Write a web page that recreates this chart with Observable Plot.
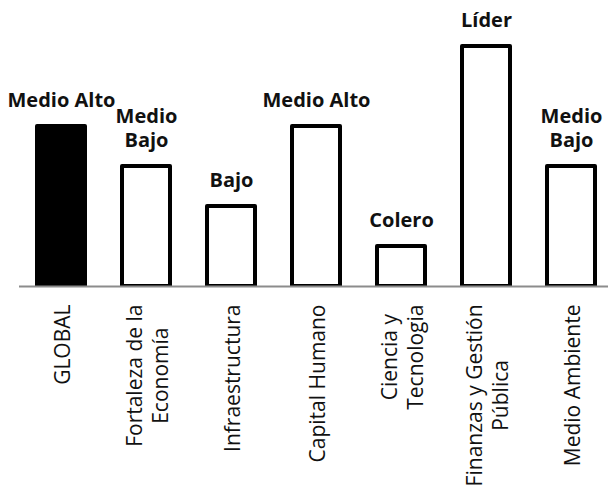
<!DOCTYPE html>
<html><head><meta charset="utf-8">
<script src="https://cdn.jsdelivr.net/npm/d3@7"></script>
<script src="https://cdn.jsdelivr.net/npm/@observablehq/plot@0.6"></script>
<style>body{margin:0;background:#fff}</style>
</head><body><div id="chart"></div>
<script>
const categories = ["GLOBAL", "Fortaleza de la\nEconomía", "Infraestructura", "Capital Humano", "Ciencia y\nTecnologia", "Finanzas y Gestión\nPública", "Medio Ambiente"];
const values = [4, 3, 2, 4, 1, 6, 3];
const levels = ["Medio Alto", "Medio\nBajo", "Bajo", "Medio Alto", "Colero", "Líder", "Medio\nBajo"];
const isGlobal = [true, false, false, false, false, false, false];

const data = categories.map((c, i) => ({cat: c, value: values[i], level: levels[i], fill: isGlobal[i] ? "#000000" : "#ffffff"}));

const axisFont = 21;
const ctx = document.createElement("canvas").getContext("2d");
ctx.font = `${axisFont}px 'Open Sans'`;
const halfLen = categories.map(c => Math.max(...c.split("\n").map(s => ctx.measureText(s).width)) / 2);

const axisLabels = data.map((d, i) => Plot.text([d], {
  x: "cat", text: "cat", frameAnchor: "bottom", rotate: -90,
  textAnchor: "middle", lineAnchor: "middle", lineHeight: 1.22,
  dy: 18 + halfLen[i], fontSize: axisFont, fontFamily: "Open Sans", fill: "#111"
}));

const chart = Plot.plot({
  width: 608, height: 485,
  marginTop: 6, marginBottom: 199, marginLeft: 19, marginRight: -6,
  x: {domain: categories, paddingInner: 0.43, paddingOuter: 0.215, axis: null},
  y: {domain: [0, 7], axis: null},
  style: {fontFamily: "Open Sans", background: "#fff"},
  marks: [
    Plot.barY(data, {x: "cat", y: "value", fill: "fill", stroke: "#000", strokeWidth: 4, strokeLinejoin: "round", clip: "frame"}),
    Plot.ruleY([0], {stroke: "#8c8c8c", strokeWidth: 2}),
    Plot.text(data, {x: "cat", y: "value", text: "level", dy: -20, lineAnchor: "bottom", lineHeight: 1.2,
      fontWeight: "bold", fontSize: 20, fontFamily: "Open Sans", fill: "#111"}),
    ...axisLabels
  ]
});
document.getElementById("chart").appendChild(chart);
</script>
</body></html>
